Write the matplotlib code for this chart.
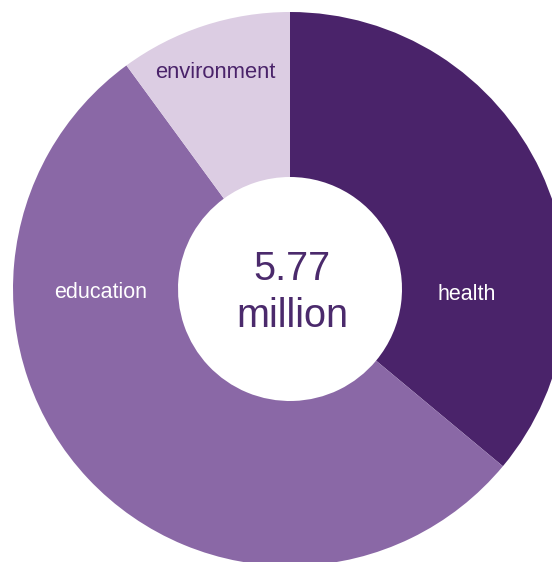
import matplotlib
matplotlib.use('Agg')
import matplotlib.pyplot as plt

# funding by area, millions (total 5.77)
areas = ["health", "education", "environment"]
amounts = [2.08, 3.11, 0.58]
colors = ["#4a236a", "#8a68a6", "#dccde3"]
total_text = ["5.77", "million"]

plt.rcParams['font.family'] = ['Liberation Sans', 'DejaVu Sans']

W, H = 552, 562
fig = plt.figure(figsize=(W / 100, H / 100), dpi=100)
ax = fig.add_axes([0, 0, 1, 1])

cx, cy, R, r_in = 290, H - 289, 277, 112
ax.pie(amounts, colors=colors, startangle=90, counterclock=False,
       radius=R, center=(cx, cy),
       wedgeprops=dict(width=R - r_in, linewidth=0))

ax.set_xlim(0, W)
ax.set_ylim(0, H)
ax.set_aspect('equal')
ax.axis('off')

# slice labels
ax.text(467, H - 300, areas[0], color="white", fontsize=15.5, ha='center', va='baseline')
ax.text(101, H - 298, areas[1], color="white", fontsize=15.5, ha='center', va='baseline')
ax.text(215, H - 78, areas[2], color="#4a236a", fontsize=15.8, ha='center', va='baseline')

# total in the middle
ax.text(cx + 2, H - 280, total_text[0], color="#4b2a6c", fontsize=28.5, ha='center', va='baseline')
ax.text(cx + 2, H - 327, total_text[1], color="#4b2a6c", fontsize=28.5, ha='center', va='baseline')

plt.savefig('out.png', dpi=100)
